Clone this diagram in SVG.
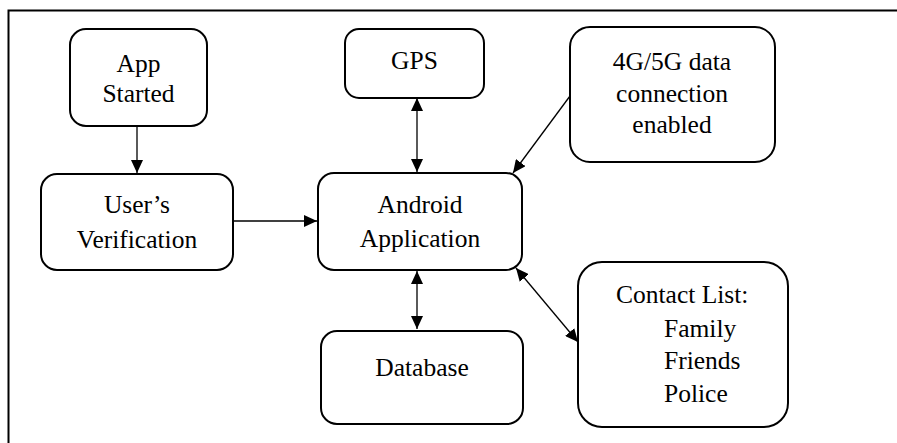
<svg xmlns="http://www.w3.org/2000/svg" width="897" height="443" viewBox="0 0 897 443">
<style>
.box{fill:#fff;stroke:#000;stroke-width:2}
.c{text-anchor:middle}
.ln{stroke:#000;stroke-width:1.3;fill:none}
</style>
<defs>
<marker id="ah" viewBox="0 0 13 12" refX="13" refY="6" markerWidth="13" markerHeight="12" markerUnits="userSpaceOnUse" orient="auto-start-reverse">
<path d="M0,0 L13,6 L0,12 Z" fill="#000"/>
</marker>
</defs>
<rect width="897" height="443" fill="#fff"/>
<path d="M8.5,443 V10.5 H897" fill="none" stroke="#000" stroke-width="2"/>
<g id="connectors">
<line class="ln" x1="137" y1="126" x2="137" y2="173" marker-end="url(#ah)"/>
<line class="ln" x1="233" y1="221" x2="317" y2="221" marker-end="url(#ah)"/>
<line class="ln" x1="417" y1="98" x2="417" y2="172" marker-start="url(#ah)" marker-end="url(#ah)"/>
<line class="ln" x1="570" y1="96" x2="513" y2="173" marker-end="url(#ah)"/>
<line class="ln" x1="417" y1="271" x2="417" y2="329" marker-start="url(#ah)" marker-end="url(#ah)"/>
<line class="ln" x1="516" y1="268" x2="578" y2="342" marker-start="url(#ah)" marker-end="url(#ah)"/>
</g>
<g font-family="Liberation Serif, serif" font-size="25.5" fill="#000">
<g id="app-started">
<rect class="box" x="70" y="29" width="137" height="97" rx="16"/>
<text class="c" x="138.5" y="72">App</text>
<text class="c" x="138.5" y="102">Started</text>
</g>
<g id="users-verification">
<rect class="box" x="41" y="174" width="192" height="96" rx="16"/>
<text class="c" x="137" y="213">User’s</text>
<text class="c" x="137" y="248">Verification</text>
</g>
<g id="gps">
<rect class="box" x="345" y="29" width="139" height="69" rx="14"/>
<text class="c" x="414.5" y="69">GPS</text>
</g>
<g id="android-application">
<rect class="box" x="318" y="173" width="204" height="97" rx="16"/>
<text class="c" x="420" y="213">Android</text>
<text class="c" x="420" y="247">Application</text>
</g>
<g id="data-connection">
<rect class="box" x="570" y="27" width="205" height="135" rx="20"/>
<text class="c" x="672" y="70">4G/5G data</text>
<text class="c" x="672" y="102">connection</text>
<text class="c" x="672" y="133">enabled</text>
</g>
<g id="database">
<rect class="box" x="321" y="331" width="202" height="93" rx="16"/>
<text class="c" x="422" y="376">Database</text>
</g>
<g id="contact-list">
<rect class="box" x="578" y="262" width="210" height="165" rx="24"/>
<text x="616" y="303">Contact List:</text>
<text x="664" y="337">Family</text>
<text x="664" y="369">Friends</text>
<text x="664" y="402">Police</text>
</g>
</g>
</svg>
